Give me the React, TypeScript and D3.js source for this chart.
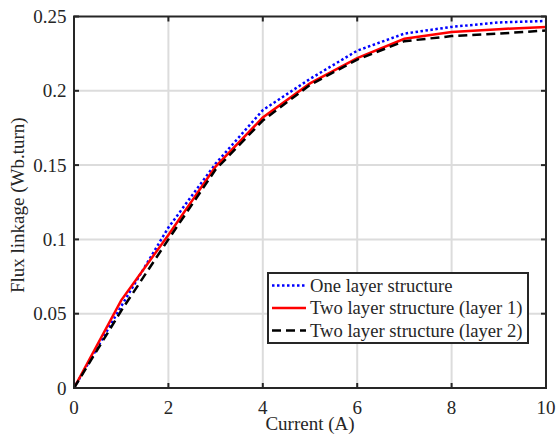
import { useRef, useEffect } from "react";
import * as d3 from "d3";

const current = [0, 1, 2, 3, 4, 5, 6, 7, 8, 9, 10];
const oneLayer = [0, 0.055, 0.108, 0.151, 0.187, 0.208, 0.227, 0.2385, 0.243, 0.246, 0.247];
const twoLayer1 = [0, 0.059, 0.103, 0.149, 0.182, 0.205, 0.222, 0.235, 0.2395, 0.2415, 0.243];
const twoLayer2 = [0, 0.052, 0.100, 0.147, 0.180, 0.204, 0.221, 0.2334, 0.2368, 0.2385, 0.2406];
const xTicks = [0, 2, 4, 6, 8, 10];
const yTicks = [0, 0.05, 0.1, 0.15, 0.2, 0.25];
const seriesNames = ["One layer structure", "Two layer structure (layer 1)", "Two layer structure (layer 2)"];

export default function App() {
    const svgRef = useRef<SVGSVGElement | null>(null);

    useEffect(() => {
        if (!svgRef.current) return;
        const svg = d3.select(svgRef.current);
        svg.selectAll("*").remove();

        const width = 556;
        const height = 435;
        const margin = { top: 16.5, right: 10, bottom: 47, left: 74 };
        const font = "Liberation Serif, Times New Roman, serif";
        const axisColor = "#262626";

        const x = d3.scaleLinear().domain([0, 10]).range([margin.left, width - margin.right]);
        const y = d3.scaleLinear().domain([0, 0.25]).range([height - margin.bottom, margin.top]);

        svg.append("rect").attr("width", width).attr("height", height).attr("fill", "#fff");

        // grid
        const grid = svg.append("g").attr("stroke", "#dcdcdc").attr("stroke-width", 2);
        xTicks.slice(1, -1).forEach(t => {
            grid.append("line").attr("x1", x(t)).attr("x2", x(t)).attr("y1", y(0)).attr("y2", y(0.25));
        });
        yTicks.slice(1, -1).forEach(t => {
            grid.append("line").attr("x1", x(0)).attr("x2", x(10)).attr("y1", y(t)).attr("y2", y(t));
        });

        // series
        const series = [
            { values: oneLayer, color: "#0000ff", dash: "2.5,2.5" },
            { values: twoLayer1, color: "#ff0000", dash: null },
            { values: twoLayer2, color: "#000000", dash: "9,5" },
        ];
        const line = d3.line<[number, number]>().x(d => x(d[0])).y(d => y(d[1]));
        series.forEach(s => {
            svg.append("path")
                .datum(current.map((c, i) => [c, s.values[i]] as [number, number]))
                .attr("d", line)
                .attr("fill", "none")
                .attr("stroke", s.color)
                .attr("stroke-width", 2.5)
                .attr("stroke-dasharray", s.dash);
        });

        // box and ticks
        svg.append("rect")
            .attr("x", x(0)).attr("y", y(0.25))
            .attr("width", x(10) - x(0)).attr("height", y(0) - y(0.25))
            .attr("fill", "none").attr("stroke", axisColor).attr("stroke-width", 2);

        const ticks = svg.append("g").attr("stroke", axisColor).attr("stroke-width", 2);
        xTicks.forEach(t => {
            ticks.append("line").attr("x1", x(t)).attr("x2", x(t)).attr("y1", y(0)).attr("y2", y(0) - 5);
            ticks.append("line").attr("x1", x(t)).attr("x2", x(t)).attr("y1", y(0.25)).attr("y2", y(0.25) + 5);
        });
        yTicks.forEach(t => {
            ticks.append("line").attr("x1", x(0)).attr("x2", x(0) + 5).attr("y1", y(t)).attr("y2", y(t));
            ticks.append("line").attr("x1", x(10)).attr("x2", x(10) - 5).attr("y1", y(t)).attr("y2", y(t));
        });

        const txt = (sel: d3.Selection<SVGTextElement, any, any, any>, size: number) =>
            sel.style("font-family", font).style("font-size", `${size}px`).attr("fill", axisColor);

        // tick labels
        svg.append("g").selectAll("text").data(xTicks).enter().append("text")
            .attr("x", d => x(d)).attr("y", y(0) + 26)
            .attr("text-anchor", "middle")
            .call(s => txt(s as any, 19))
            .text(d => d3.format("")(d));
        svg.append("g").selectAll("text").data(yTicks).enter().append("text")
            .attr("x", x(0) - 7.5).attr("y", d => y(d) + 6.5)
            .attr("text-anchor", "end")
            .call(s => txt(s as any, 19))
            .text(d => d3.format("")(d));

        // axis labels
        txt(svg.append("text")
            .attr("x", (x(0) + x(10)) / 2).attr("y", 430)
            .attr("text-anchor", "middle"), 19)
            .text("Current (A)");
        txt(svg.append("text")
            .attr("transform", `translate(23.5,${(y(0) + y(0.25)) / 2 + 3}) rotate(-90)`)
            .attr("text-anchor", "middle"), 19)
            .text("Flux linkage (Wb.turn)");

        // legend
        const lg = svg.append("g").attr("transform", "translate(268,273)");
        lg.append("rect").attr("width", 260).attr("height", 70)
            .attr("fill", "#fff").attr("stroke", axisColor).attr("stroke-width", 2);
        series.forEach((s, i) => {
            const ly = 12.5 + i * 22.5;
            lg.append("line").attr("x1", 4).attr("x2", 38).attr("y1", ly).attr("y2", ly)
                .attr("stroke", s.color).attr("stroke-width", 2.5).attr("stroke-dasharray", s.dash);
            txt(lg.append("text").attr("x", 42).attr("y", ly + 6), 18.6)
                .text(seriesNames[i]);
        });
    }, []);

    return (
        <svg ref={svgRef} width={556} height={435} style={{ position: "absolute", left: 0, top: 0 }} />
    );
}
